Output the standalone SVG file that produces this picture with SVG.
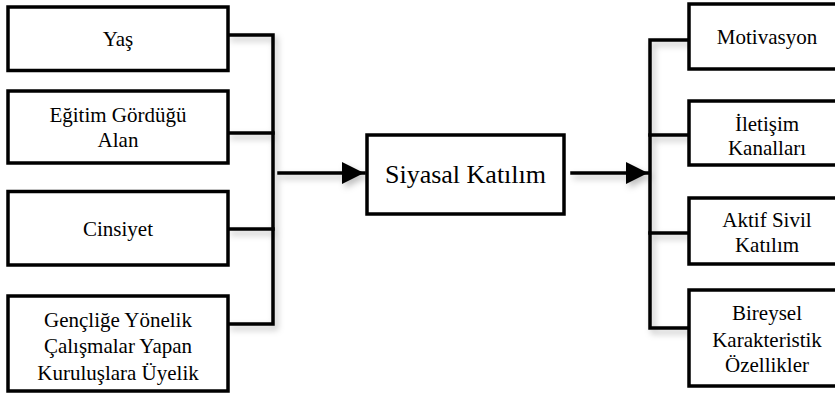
<svg xmlns="http://www.w3.org/2000/svg" width="835" height="395" viewBox="0 0 835 395">
<style>
.box{fill:#fff;stroke:#000;stroke-width:3.5}
.ln{fill:none;stroke:#000;stroke-width:3.5;stroke-linecap:square}
</style>
<defs>
<filter id="sh" x="-20%" y="-20%" width="140%" height="140%">
<feDropShadow dx="3" dy="4" stdDeviation="3" flood-color="#000" flood-opacity="0.25"/>
</filter>
<marker id="ah" markerWidth="22" markerHeight="22" refX="22" refY="11" orient="auto" markerUnits="userSpaceOnUse">
<path d="M0,0 L22,11 L0,22 Z" fill="#000"/>
</marker>
</defs>
<g id="connectors" filter="url(#sh)">
<path class="ln" d="M229,35 H273 V324 H229"/>
<path class="ln" d="M229,133 H273"/>
<path class="ln" d="M229,229 H273"/>
<line class="ln" x1="279" y1="173" x2="364" y2="173" stroke-linecap="butt" marker-end="url(#ah)"/>
<line class="ln" x1="572" y1="173" x2="648" y2="173" stroke-linecap="butt" marker-end="url(#ah)"/>
<path class="ln" d="M689,40 H650 V328 H689"/>
<path class="ln" d="M650,135 H689"/>
<path class="ln" d="M650,233 H689"/>
</g>
<g id="yas"><rect class="box" x="8" y="7" width="220" height="63.5"/><text x="118" y="46" style="font-family:'Liberation Serif';font-size:21px;text-anchor:middle">Yaş</text></g>
<g id="egitim"><rect class="box" x="8" y="91" width="220" height="72"/><text x="118" y="122" style="font-family:'Liberation Serif';font-size:21px;text-anchor:middle">Eğitim Gördüğü</text><text x="118" y="147" style="font-family:'Liberation Serif';font-size:21px;text-anchor:middle">Alan</text></g>
<g id="cinsiyet"><rect class="box" x="8" y="191.5" width="220" height="73.5"/><text x="118" y="236" style="font-family:'Liberation Serif';font-size:21px;text-anchor:middle">Cinsiyet</text></g>
<g id="genclik"><rect class="box" x="8" y="296" width="220" height="95"/><text x="118" y="327" style="font-family:'Liberation Serif';font-size:21px;text-anchor:middle">Gençliğe Yönelik</text><text x="118" y="353" style="font-family:'Liberation Serif';font-size:21px;text-anchor:middle">Çalışmalar Yapan</text><text x="118" y="380" style="font-family:'Liberation Serif';font-size:21px;text-anchor:middle">Kuruluşlara Üyelik</text></g>
<g id="siyasal"><rect class="box" x="367" y="135" width="197" height="79"/><text x="465.5" y="183" style="font-family:'Liberation Serif';font-size:26px;text-anchor:middle">Siyasal Katılım</text></g>
<g id="motivasyon"><rect class="box" x="689" y="4" width="160" height="65"/><text x="767" y="44" style="font-family:'Liberation Serif';font-size:21px;text-anchor:middle">Motivasyon</text></g>
<g id="iletisim"><rect class="box" x="689" y="101" width="160" height="64"/><text x="767" y="131" style="font-family:'Liberation Serif';font-size:21px;text-anchor:middle">İletişim</text><text x="767" y="155" style="font-family:'Liberation Serif';font-size:21px;text-anchor:middle">Kanalları</text></g>
<g id="aktif"><rect class="box" x="689" y="198" width="160" height="66"/><text x="767" y="227" style="font-family:'Liberation Serif';font-size:21px;text-anchor:middle">Aktif Sivil</text><text x="767" y="252" style="font-family:'Liberation Serif';font-size:21px;text-anchor:middle">Katılım</text></g>
<g id="bireysel"><rect class="box" x="689" y="290" width="160" height="96"/><text x="767" y="320" style="font-family:'Liberation Serif';font-size:21px;text-anchor:middle">Bireysel</text><text x="767" y="347" style="font-family:'Liberation Serif';font-size:21px;text-anchor:middle">Karakteristik</text><text x="767" y="372" style="font-family:'Liberation Serif';font-size:21px;text-anchor:middle">Özellikler</text></g>
</svg>
